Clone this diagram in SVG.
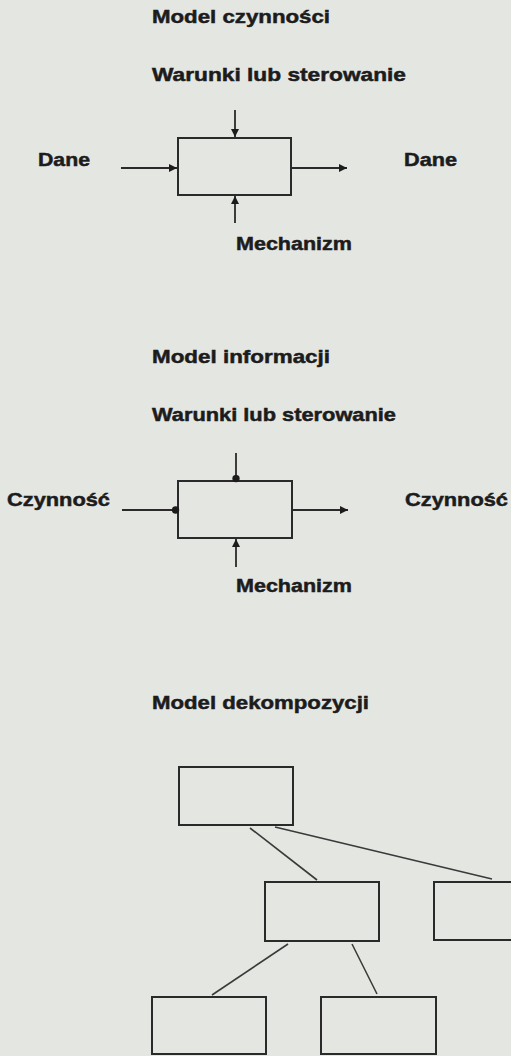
<svg xmlns="http://www.w3.org/2000/svg" width="511" height="1056" viewBox="0 0 511 1056">
<style>
.t{font-family:"Liberation Sans",Arial,sans-serif;font-weight:bold;font-size:19px;fill:#1c1c1c;stroke:#1c1c1c;stroke-width:0.5}
.box{fill:none;stroke:#2a2a2a;stroke-width:2}
.ca{stroke:#2a2a2a;stroke-width:1.8;fill:none;marker-end:url(#ah)}
.cd{stroke:#2a2a2a;stroke-width:1.8;fill:none;marker-end:url(#dot)}
.tl{stroke:#3a3a3a;stroke-width:1.6;fill:none}
</style>
<defs>
<marker id="ah" viewBox="0 0 10 10" refX="10" refY="5" markerWidth="4.5" markerHeight="4.5" orient="auto" markerUnits="strokeWidth">
<path d="M0,0 L10,5 L0,10 z" fill="#1c1c1c"/>
</marker>
<marker id="dot" viewBox="0 0 10 10" refX="8" refY="5" markerWidth="4.5" markerHeight="4.5" orient="auto" markerUnits="strokeWidth">
<circle cx="5" cy="5" r="4.5" fill="#1c1c1c"/>
</marker>
</defs>
<rect x="0" y="0" width="511" height="1056" fill="#e4e6e2"/>

<!-- Model czynności -->
<g id="title1"><text class="t" x="152" y="23" textLength="178" lengthAdjust="spacingAndGlyphs">Model czynności</text></g>
<g id="ctrl1-label"><text class="t" x="152" y="81" textLength="254" lengthAdjust="spacingAndGlyphs">Warunki lub sterowanie</text></g>
<g id="in1-label"><text class="t" x="38" y="166" textLength="52" lengthAdjust="spacingAndGlyphs">Dane</text></g>
<g id="out1-label"><text class="t" x="404" y="166" textLength="53" lengthAdjust="spacingAndGlyphs">Dane</text></g>
<g id="mech1-label"><text class="t" x="236" y="250" textLength="116" lengthAdjust="spacingAndGlyphs">Mechanizm</text></g>
<g id="activity1"><rect class="box" x="178" y="138" width="113" height="57"/></g>

<!-- Model informacji -->
<g id="title2"><text class="t" x="152" y="363" textLength="178" lengthAdjust="spacingAndGlyphs">Model informacji</text></g>
<g id="ctrl2-label"><text class="t" x="152" y="421" textLength="244" lengthAdjust="spacingAndGlyphs">Warunki lub sterowanie</text></g>
<g id="in2-label"><text class="t" x="7" y="506" textLength="103" lengthAdjust="spacingAndGlyphs">Czynność</text></g>
<g id="out2-label"><text class="t" x="405" y="506" textLength="103" lengthAdjust="spacingAndGlyphs">Czynność</text></g>
<g id="mech2-label"><text class="t" x="236" y="592" textLength="116" lengthAdjust="spacingAndGlyphs">Mechanizm</text></g>
<g id="info2"><rect class="box" x="178" y="481" width="114" height="57"/></g>

<!-- Model dekompozycji -->
<g id="title3"><text class="t" x="152" y="709" textLength="217" lengthAdjust="spacingAndGlyphs">Model dekompozycji</text></g>
<g id="nodeA"><rect class="box" x="179" y="767" width="114" height="58"/></g>
<g id="nodeB"><rect class="box" x="265" y="882" width="114" height="59"/></g>
<g id="nodeC"><rect class="box" x="434" y="882" width="90" height="58"/></g>
<g id="nodeD"><rect class="box" x="152" y="997" width="114" height="57"/></g>
<g id="nodeE"><rect class="box" x="321" y="997" width="115" height="57"/></g>

<g id="connectors">
<line class="ca" x1="235" y1="110" x2="235" y2="137"/>
<line class="ca" x1="235" y1="223" x2="235" y2="196"/>
<line class="ca" x1="121" y1="168" x2="177" y2="168"/>
<line class="ca" x1="291" y1="168" x2="347" y2="168"/>

<line class="cd" x1="236" y1="453" x2="236" y2="481"/>
<line class="ca" x1="236" y1="567" x2="236" y2="539"/>
<line class="cd" x1="122" y1="510" x2="178" y2="510"/>
<line class="ca" x1="292" y1="510" x2="348" y2="510"/>

<line class="tl" x1="250" y1="828" x2="317" y2="880"/>
<line class="tl" x1="275" y1="827" x2="492" y2="879"/>
<line class="tl" x1="288" y1="944" x2="212" y2="995"/>
<line class="tl" x1="352" y1="944" x2="377" y2="994"/>
</g>
</svg>
